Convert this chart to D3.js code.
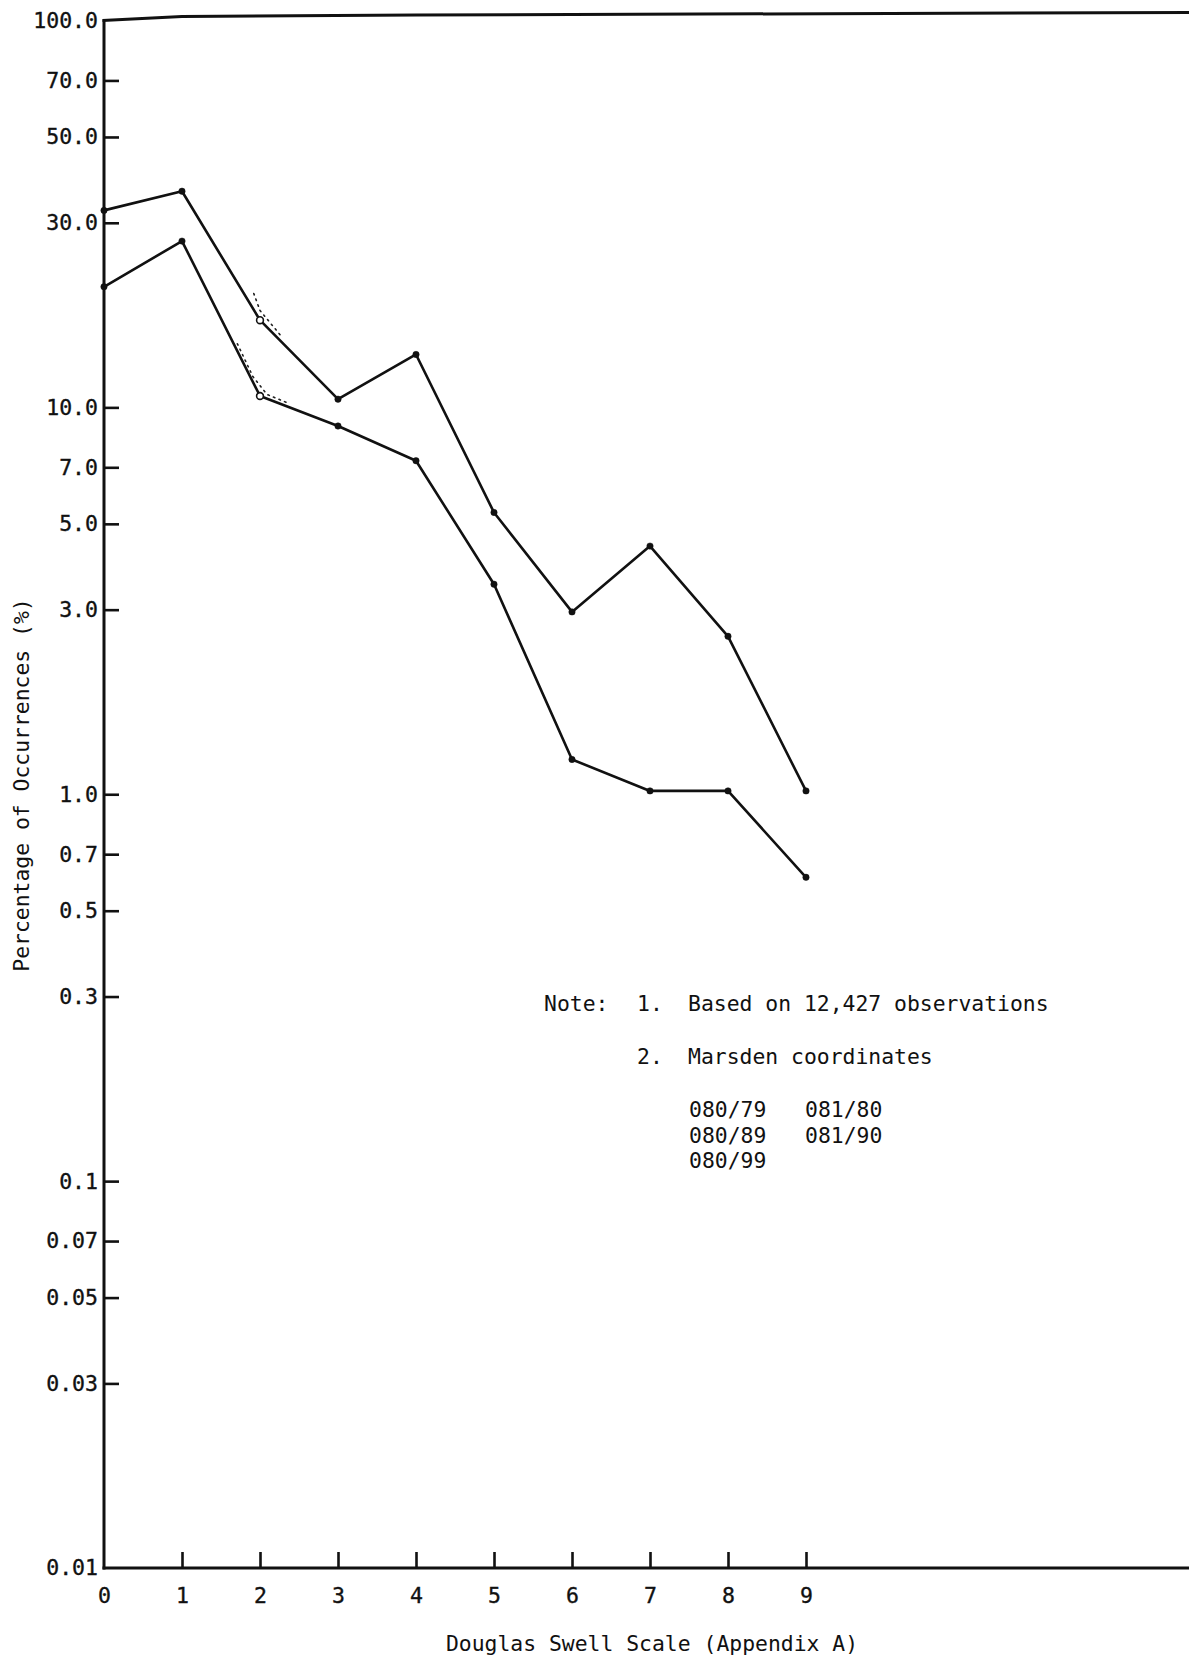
<!DOCTYPE html>
<html>
<head>
<meta charset="utf-8">
<script src="https://cdn.jsdelivr.net/npm/d3@7"></script>
<style>
  html, body { margin: 0; padding: 0; background: #fff; }
  svg { display: block; }
  text { font-family: "DejaVu Sans Mono", monospace; fill: #111; }
</style>
</head>
<body>
<svg id="chart" width="1189" height="1663"></svg>
<script>
// ---- data ----
const swellScale = [0, 1, 2, 3, 4, 5, 6, 7, 8, 9];
const xTickLabels = ["0", "1", "2", "3", "4", "5", "6", "7", "8", "9"];
const upperPct = [32.3, 36.2, 16.8, 10.5, 13.7, 5.35, 2.96, 4.38, 2.56, 1.02];
const lowerPct = [20.5, 26.9, 10.7, 8.95, 7.28, 3.49, 1.23, 1.02, 1.02, 0.61];
// faint dotted traces near scale 2
const dottedUpperX = [1.92, 2.0, 2.27];
const dottedUpperPct = [19.7, 17.8, 15.3];
const dottedLowerX = [1.71, 1.91, 2.09, 2.36];
const dottedLowerPct = [14.6, 12.0, 10.8, 10.26];
const yTickValues = [100, 70, 50, 30, 10, 7, 5, 3, 1, 0.7, 0.5, 0.3, 0.1, 0.07, 0.05, 0.03, 0.01];
const yTickLabels = ["100.0", "70.0", "50.0", "30.0", "10.0", "7.0", "5.0", "3.0", "1.0", "0.7", "0.5", "0.3", "0.1", "0.07", "0.05", "0.03", "0.01"];
const yTitle = "Percentage of Occurrences (%)";
const xTitle = "Douglas Swell Scale (Appendix A)";
const noteHead = "Note:";
const noteItems = [["1.", "Based on 12,427 observations"], ["2.", "Marsden coordinates"]];
const marsdenCol1 = ["080/79", "080/89", "080/99"];
const marsdenCol2 = ["081/80", "081/90"];

// ---- layout ----
const W = 1189, H = 1663;
const svg = d3.select("#chart");
svg.append("rect").attr("width", W).attr("height", H).attr("fill", "#fff");

const x = d3.scaleLinear().domain([0, 9]).range([104, 806]);
const y = d3.scaleLog().domain([0.01, 100]).range([1568, 20.5]);

const FS = 21.4;

// Left axis with inward ticks
const yAxis = d3.axisLeft(y)
  .tickValues(yTickValues)
  .tickFormat((d, i) => yTickLabels[i])
  .tickSize(-15)
  .tickSizeOuter(0)
  .tickPadding(6);
const gy = svg.append("g").attr("transform", `translate(${x(0)},0)`).call(yAxis);
gy.select(".domain").remove();
gy.selectAll(".tick line").attr("stroke", "#111").attr("stroke-width", 2.6)
  .filter(d => d === 100 || d === 0.01).remove();
gy.selectAll(".tick text").attr("font-size", 21.5).attr("font-family", "DejaVu Sans Mono")
  .attr("fill", "#111").attr("stroke", "#111").attr("stroke-width", 0.35);

// Bottom axis with inward ticks
const xAxis = d3.axisBottom(x)
  .tickValues(swellScale)
  .tickFormat((d, i) => xTickLabels[i])
  .tickSize(-16)
  .tickSizeOuter(0)
  .tickPadding(20);
const gx = svg.append("g").attr("transform", `translate(0,${y(0.01)})`).call(xAxis);
gx.select(".domain").remove();
gx.selectAll(".tick line").attr("stroke", "#111").attr("stroke-width", 2.6)
  .filter(d => d === 0).remove();
gx.selectAll(".tick text").attr("font-size", 21.5).attr("font-family", "DejaVu Sans Mono")
  .attr("fill", "#111").attr("stroke", "#111").attr("stroke-width", 0.35);

// Frame lines
svg.append("line")
  .attr("x1", x(0)).attr("x2", x(0))
  .attr("y1", y(100) - 1).attr("y2", y(0.01) + 1.5)
  .attr("stroke", "#111").attr("stroke-width", 3);
svg.append("line")
  .attr("x1", x(0) - 1.5).attr("x2", W)
  .attr("y1", y(0.01)).attr("y2", y(0.01))
  .attr("stroke", "#111").attr("stroke-width", 3);
// top line (slightly tilted as in the scan)
svg.append("path")
  .attr("d", d3.line()([[x(0) - 1.5, y(100)], [x(1), y(100) - 4], [x(4), y(100) - 5.5], [W, y(100) - 8]]))
  .attr("fill", "none").attr("stroke", "#111").attr("stroke-width", 3);

// Series lines
const line = d3.line().x((d, i) => x(swellScale[i])).y(d => y(d));
[upperPct, lowerPct].forEach(series => {
  svg.append("path")
    .attr("d", line(series))
    .attr("fill", "none").attr("stroke", "#111")
    .attr("stroke-width", 2.6).attr("stroke-linejoin", "round").attr("stroke-linecap", "round");
});

// Dotted traces
const dline = d3.line().x(d => x(d[0])).y(d => y(d[1]));
[[dottedUpperX, dottedUpperPct], [dottedLowerX, dottedLowerPct]].forEach(([xs, vs]) => {
  svg.append("path")
    .attr("d", dline(xs.map((v, i) => [v, vs[i]])))
    .attr("fill", "none").attr("stroke", "#222")
    .attr("stroke-width", 1.6).attr("stroke-dasharray", "1.5,4.5").attr("stroke-linecap", "round");
});

// Markers
[upperPct, lowerPct].forEach(series => {
  svg.append("g").selectAll("circle").data(series).join("circle")
    .attr("cx", (d, i) => x(swellScale[i]))
    .attr("cy", d => y(d))
    .attr("r", (d, i) => i === 2 ? 3.4 : 3.2)
    .attr("fill", (d, i) => i === 2 ? "#fff" : "#111")
    .attr("stroke", "#111").attr("stroke-width", (d, i) => i === 2 ? 1.6 : 0.5);
});

// Axis titles
svg.append("text")
  .attr("transform", `translate(29,785) rotate(-90)`)
  .attr("text-anchor", "middle")
  .attr("font-size", FS)
  .text(yTitle);
svg.append("text")
  .attr("x", 652).attr("y", 1651)
  .attr("text-anchor", "middle")
  .attr("font-size", FS)
  .text(xTitle);

// Note
const note = svg.append("g").attr("font-size", FS);
note.append("text").attr("x", 544).attr("y", 1011).text(noteHead);
noteItems.forEach((item, i) => {
  const yy = 1011 + i * 53;
  note.append("text").attr("x", 637).attr("y", yy).text(item[0]);
  note.append("text").attr("x", 688).attr("y", yy).text(item[1]);
});
marsdenCol1.forEach((t, i) => {
  note.append("text").attr("x", 689).attr("y", 1117 + i * 25.5).text(t);
});
marsdenCol2.forEach((t, i) => {
  note.append("text").attr("x", 805).attr("y", 1117 + i * 25.5).text(t);
});
</script>
</body>
</html>
